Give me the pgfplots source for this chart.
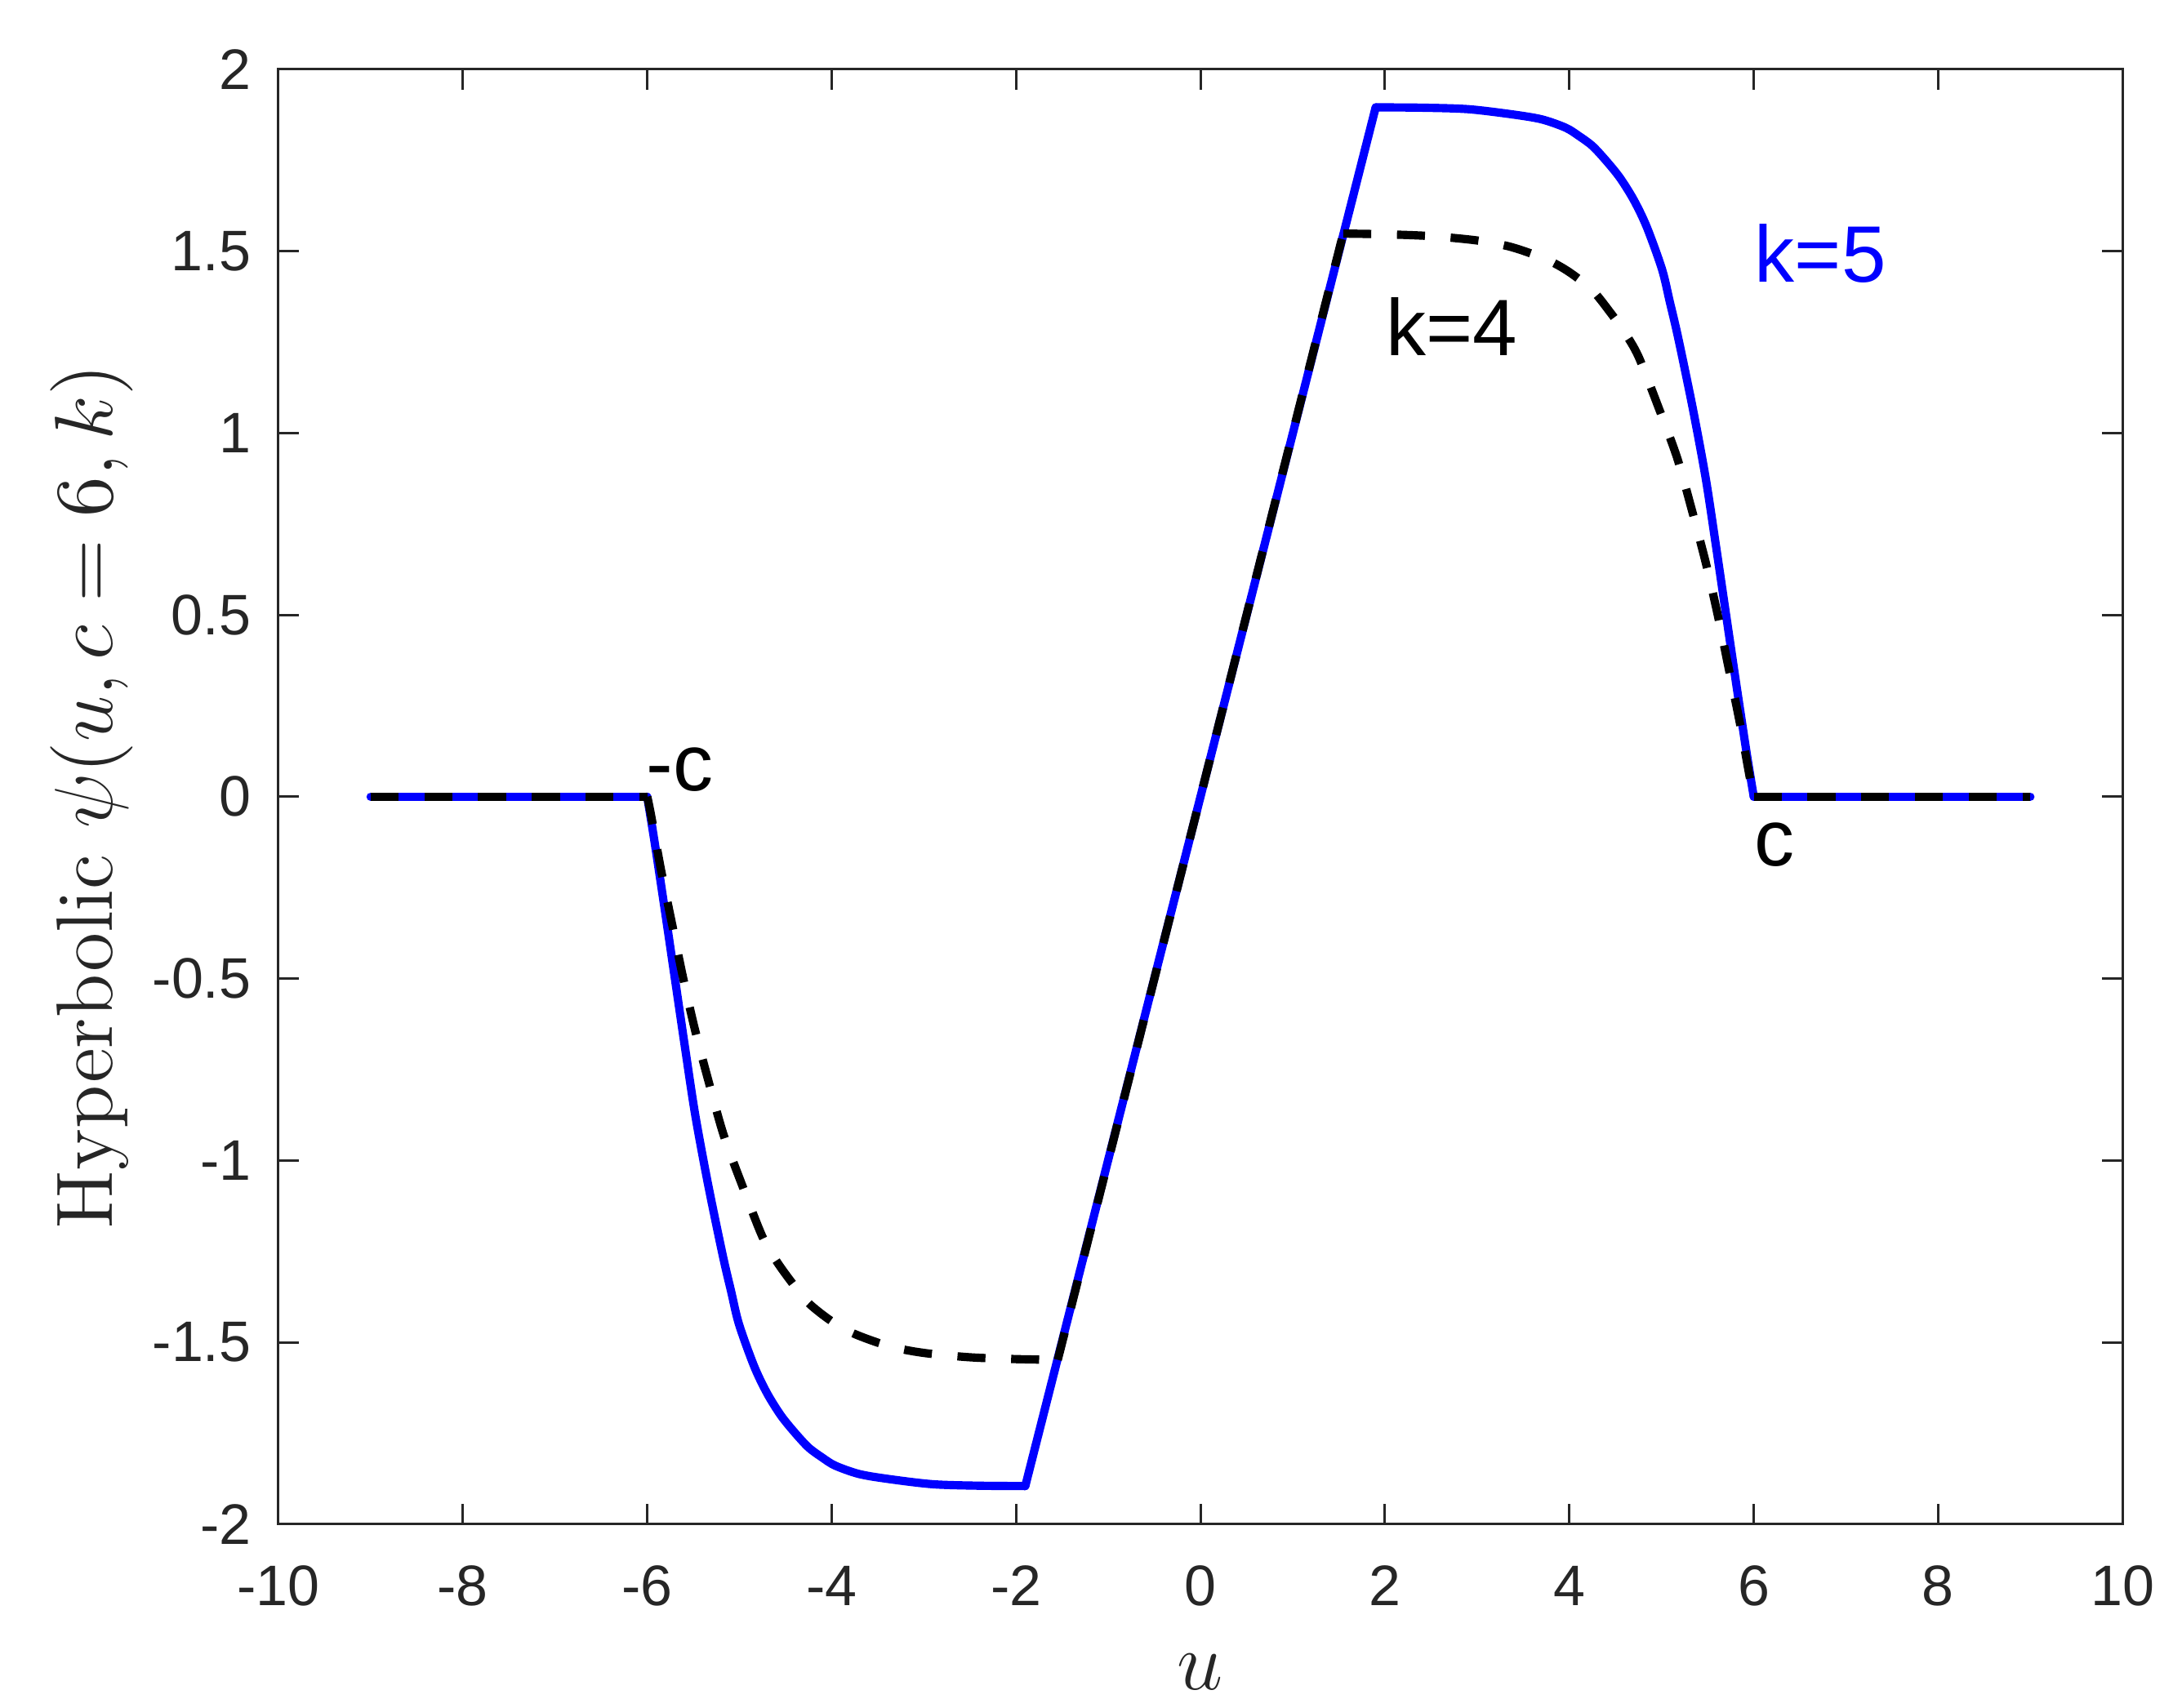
\documentclass[border=0pt]{standalone}
\usepackage{fontspec}
\usepackage{pgfplots}
\pgfplotsset{compat=1.18}
\newfontfamily\arial{Liberation Sans}
\definecolor{axgray}{rgb}{0.15,0.15,0.15}

\begin{document}
\begin{tikzpicture}
\begin{axis}[name=ax, scale only axis, width=322.6pt, height=254.6pt,
 xmin=-10, xmax=10, ymin=-2, ymax=2,
 xtick={-10,-8,-6,-4,-2,0,2,4,6,8,10},
 xticklabels={-10,-8,-6,-4,-2,0,2,4,6,8,10},
 ytick={-2,-1.5,-1,-0.5,0,0.5,1,1.5,2},
 yticklabels={-2,-1.5,-1,-0.5,0,0.5,1,1.5,2},
 tick align=inside, tick pos=both, major tick length=3.6pt,
 axis line style={axgray, line width=0.43pt},
 every tick/.style={axgray, line width=0.43pt},
 tick label style={font=\arial\fontsize{10}{12}\selectfont, text=axgray, inner sep=0pt},
 xticklabel style={anchor=north, yshift=-7.1pt},
 yticklabel style={anchor=east, xshift=-4.6pt},
 xlabel={$u$}, ylabel={Hyperbolic $\psi(u,c=6,k)$},
 every axis x label/.style={at={(rel axis cs:0.5,0)}, yshift=-29pt, anchor=base, font=\fontsize{14}{16}\selectfont, text=axgray},
 every axis y label/.style={at={(rel axis cs:0,0.5)}, xshift=-29.1pt, rotate=90, anchor=base, font=\fontsize{14}{16}\selectfont, text=axgray},
 clip=false]

% k = 5 (solid blue)
\addplot[blue, line width=1.45pt, line join=round, line cap=round] coordinates {(-9,0) (-6,0)};
\addplot[blue, line width=1.45pt, line join=round, line cap=round, smooth, tension=0.5] coordinates {
(-6,0) (-5.92,-0.125) (-5.81,-0.310) (-5.70,-0.500) (-5.59,-0.690) (-5.48,-0.874)
(-5.34,-1.066) (-5.18,-1.262) (-5.09,-1.36) (-5.005,-1.450) (-4.84,-1.566) (-4.7,-1.640)
(-4.55,-1.701) (-4.4,-1.748) (-4.25,-1.789) (-4.1,-1.817) (-3.96,-1.839) (-3.7,-1.862)
(-3.37,-1.876) (-2.9,-1.890) (-2.4,-1.894) (-1.9,-1.895)};
\addplot[blue, line width=1.45pt, line join=round, line cap=round] coordinates {(-1.9,-1.895) (0,0) (1.9,1.895)};
\addplot[blue, line width=1.45pt, line join=round, line cap=round, smooth, tension=0.5] coordinates {
(1.9,1.895) (2.4,1.894) (2.9,1.890) (3.37,1.876) (3.7,1.862) (3.96,1.839) (4.1,1.817)
(4.25,1.789) (4.4,1.748) (4.55,1.701) (4.7,1.640) (4.84,1.566) (5.005,1.450) (5.09,1.36)
(5.18,1.262) (5.34,1.066) (5.48,0.874) (5.59,0.690) (5.70,0.500) (5.81,0.310)
(5.92,0.125) (6,0)};
\addplot[blue, line width=1.45pt, line join=round, line cap=round] coordinates {(6,0) (9,0)};

% k = 4 (dashed black)
\addplot[black, line width=1.45pt, dash pattern=on 4.9pt off 4.5pt] coordinates {(-9,0) (-6,0)};
\addplot[black, line width=1.45pt, dash pattern=on 4.9pt off 4.5pt, smooth, tension=0.5] coordinates {
(-6,0) (-5.96,-0.049) (-5.85,-0.202) (-5.73,-0.351) (-5.61,-0.499) (-5.48,-0.643)
(-5.33,-0.787) (-5.17,-0.931) (-4.96,-1.075) (-4.75,-1.210) (-4.6,-1.276)
(-4.43,-1.336) (-4.25,-1.392) (-4.0,-1.442) (-3.75,-1.477) (-3.37,-1.511)
(-3.0,-1.529) (-2.5,-1.541) (-2.0,-1.546) (-1.548,-1.548)};
\addplot[black, line width=1.45pt, dash pattern=on 4.9pt off 4.5pt] coordinates {(-1.548,-1.548) (0,0) (1.548,1.548)};
\addplot[black, line width=1.45pt, dash pattern=on 4.9pt off 4.5pt, smooth, tension=0.5] coordinates {
(1.548,1.548) (2.0,1.546) (2.5,1.541) (3.0,1.529) (3.37,1.511) (3.75,1.477)
(4.0,1.442) (4.25,1.392) (4.43,1.336) (4.6,1.276) (4.75,1.210) (4.96,1.075)
(5.17,0.931) (5.33,0.787) (5.48,0.643) (5.61,0.499) (5.73,0.351) (5.85,0.202)
(5.96,0.049) (6,0)};
\addplot[black, line width=1.45pt, dash pattern=on 4.9pt off 4.5pt] coordinates {(6,0) (9,0)};

\node[anchor=base west, inner sep=0pt, font=\arial\fontsize{14}{16}\selectfont] at (axis cs:-6.02,0.017) {-c};
\node[anchor=base west, inner sep=0pt, font=\arial\fontsize{14}{16}\selectfont] at (axis cs:6.0,-0.19) {c};
\node[anchor=base west, inner sep=0pt, font=\arial\fontsize{14}{16}\selectfont] at (axis cs:2.0,1.213) {k=4};
\node[anchor=base west, inner sep=0pt, font=\arial\fontsize{14}{16}\selectfont, text=blue] at (axis cs:6.0,1.414) {k=5};
\end{axis}
\pgfresetboundingbox
\path[use as bounding box] ([xshift=-48.7pt,yshift=-32.1pt]ax.south west) rectangle ([xshift=10.4pt,yshift=12.1pt]ax.north east);
\end{tikzpicture}
\end{document}
